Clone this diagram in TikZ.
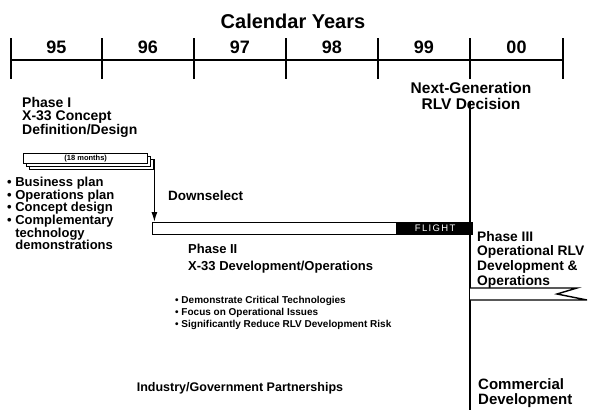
\documentclass[tikz,border=0pt]{standalone}
\usepackage{fontspec}
\setmainfont{Liberation Sans}
\usetikzlibrary{arrows.meta,calc}
\tikzset{
  txt/.style={inner sep=0pt, font=\bfseries\fontsize{#1}{#1}\selectfont},
  txt/.default=12,
  lefttxt/.style={txt=#1, anchor=north west, align=left},
  axis/.style={line width=1.6pt},
  bar/.style={draw, line width=1.4pt, fill=white, inner sep=0pt},
  p1box/.style={bar, minimum width=124pt, minimum height=10pt, anchor=north west},
}
\begin{document}
\begin{tikzpicture}[x=1pt,y=-1pt]
  \useasboundingbox (0,0) rectangle (590,410);
  % calendar
  \node[txt=20] (cal) at (293,21) {Calendar Years};
  \foreach \x [count=\i from 0] in {11,102,194,286,378,470,563}
    \coordinate (t\i) at (\x,60);
  \draw[axis] (t0) -- (t6);
  \foreach \i in {0,...,6}
    \draw[axis] ([yshift=22pt]t\i) -- ([yshift=-19pt]t\i);
  \foreach \y [count=\i from 0, evaluate=\i as \j using int(\i+1)] in {95,96,97,98,99,00}
    \node[txt=18] (y\y) at ($(t\i)!0.5!(t\j)+(0,-13)$) {\y};
  % decision
  \node[txt=15.5, align=center] (dec) at (471,96) {Next-Generation\\RLV Decision};
  \coordinate (dtop) at (470,101);
  \coordinate (dbot) at (470,410);
  \draw[line width=2.6pt] (dtop) -- (dbot);
  % phase I
  \node[lefttxt=14, font=\bfseries\fontsize{14}{13.6}\selectfont] (p1) at (22,97) {Phase I\\X-33 Concept\\Definition/Design};
  \node[p1box] (p1c) at (29,159) {};
  \node[p1box] (p1b) at (26,156) {};
  \node[p1box, txt=7.5] (p1a) at (23,153) {(18 months)};
  \node[lefttxt=13, font=\bfseries\fontsize{13}{12.6}\selectfont] (p1l) at (7,177) {\textbullet\ Business plan\\\textbullet\ Operations plan\\\textbullet\ Concept design\\\textbullet\ Complementary\\\phantom{\textbullet\ }technology\\\phantom{\textbullet\ }demonstrations};
  % phase II
  \node[bar, minimum width=244pt, minimum height=12pt, anchor=north west] (p2) at (152,222) {};
  \node[draw, fill=black, line width=1.4pt, inner sep=0pt, minimum width=74pt, minimum height=12pt, anchor=north west,
        text=white, font=\fontsize{9.5}{9.5}\selectfont\addfontfeature{LetterSpace=14}] (fl) at (p2.north east) {FLIGHT};
  \draw[-{Latex[length=10pt,width=6pt]}, line width=1.4pt] (p1c.north east) -- (p1c.north east |- p2.north);
  \node[lefttxt=13.5] (dn) at (168,191) {Downselect};
  \node[lefttxt=13, font=\bfseries\fontsize{13}{17}\selectfont] (p2t) at (188,244) {Phase II\\X-33 Development/Operations};
  \node[lefttxt=10, font=\bfseries\fontsize{10}{12}\selectfont] (p2l) at (175,296) {\textbullet\ Demonstrate Critical Technologies\\\textbullet\ Focus on Operational Issues\\\textbullet\ Significantly Reduce RLV Development Risk};
  \node[txt=12.5] (ind) at (240,388) {Industry/Government Partnerships};
  % phase III
  \node[lefttxt=13.8, font=\bfseries\fontsize{13.8}{14.7}\selectfont] (p3) at (477,231) {Phase III\\Operational RLV\\Development \&\\Operations};
  \coordinate (f0) at (dtop |- 0,288);
  \coordinate (f1) at (dtop |- 0,300);
  \draw[line width=1.4pt, fill=white] (f0) -- ++(107,0) -- ++(-20,6) -- ++(30,6) -- (f1);
  \node[lefttxt=15] (com) at (478,378) {Commercial\\Development};
\end{tikzpicture}
\end{document}
